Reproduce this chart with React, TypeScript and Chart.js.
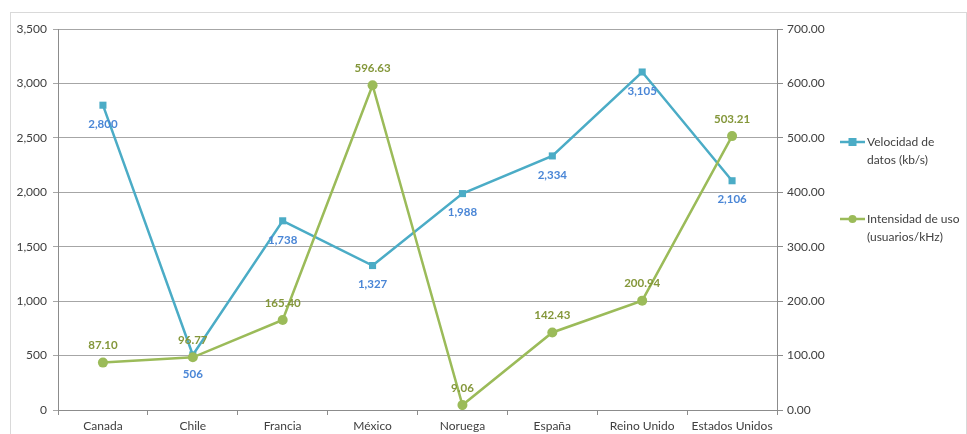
import React, { useEffect, useRef } from "react";
import { Chart, registerables } from "chart.js";

Chart.register(...registerables);

const categories = ["Canada", "Chile", "Francia", "México", "Noruega", "España", "Reino Unido", "Estados Unidos"];
const velocidad = [2800, 506, 1738, 1327, 1988, 2334, 3105, 2106];
const intensidad = [87.1, 96.77, 165.4, 596.63, 9.06, 142.43, 200.94, 503.21];
const legendVelocidad = ["Velocidad de", "datos (kb/s)"];
const legendIntensidad = ["Intensidad de uso", "(usuarios/kHz)"];

const BLUE = "#4bacc6";
const GREEN = "#9bbb59";
const BLUE_LABEL = "#4a86d6";
const GREEN_LABEL = "#84973a";
const TEXT = "#404040";
const FONT = "Lato, 'Open Sans', sans-serif";

const dataLabels = {
  id: "dataLabels",
  afterDatasetsDraw(chart: any) {
    const ctx = chart.ctx;
    ctx.save();
    ctx.font = `bold 11.5px ${FONT}`;
    ctx.textAlign = "center";
    ctx.textBaseline = "middle";
    chart.data.datasets.forEach((ds: any, di: number) => {
      const meta = chart.getDatasetMeta(di);
      meta.data.forEach((pt: any, i: number) => {
        const v = ds.data[i];
        if (di === 0) {
          ctx.fillStyle = BLUE_LABEL;
          ctx.fillText(v.toLocaleString("en-US"), pt.x, pt.y + 19);
        } else {
          ctx.fillStyle = GREEN_LABEL;
          ctx.fillText(v.toFixed(2), pt.x, pt.y - 17);
        }
      });
    });
    ctx.restore();
  },
};

const customLegend = {
  id: "customLegend",
  afterDraw(chart: any) {
    const ctx = chart.ctx;
    ctx.save();
    const items = [
      { lines: legendVelocidad, color: BLUE, shape: "rect", y: 142 },
      { lines: legendIntensidad, color: GREEN, shape: "circle", y: 219 },
    ];
    const x0 = 840;
    items.forEach((it) => {
      ctx.strokeStyle = it.color;
      ctx.lineWidth = 2.5;
      ctx.beginPath();
      ctx.moveTo(x0, it.y);
      ctx.lineTo(x0 + 25, it.y);
      ctx.stroke();
      ctx.fillStyle = it.color;
      if (it.shape === "rect") {
        ctx.fillRect(x0 + 8.5, it.y - 4, 8, 8);
      } else {
        ctx.beginPath();
        ctx.arc(x0 + 12.5, it.y, 4, 0, Math.PI * 2);
        ctx.fill();
      }
      ctx.fillStyle = TEXT;
      ctx.font = `12px ${FONT}`;
      ctx.textAlign = "left";
      ctx.textBaseline = "middle";
      it.lines.forEach((l, k) => ctx.fillText(l, x0 + 27, it.y + k * 18));
    });
    ctx.restore();
  },
};

export default function App() {
  const ref = useRef<HTMLCanvasElement>(null);
  useEffect(() => {
    if (!ref.current) return;
    const chart = new Chart(ref.current, {
      type: "line",
      data: {
        labels: categories,
        datasets: [
          {
            label: "Velocidad de datos (kb/s)",
            data: velocidad,
            yAxisID: "y",
            borderColor: BLUE,
            backgroundColor: BLUE,
            borderWidth: 2.5,
            pointStyle: "rect",
            pointRadius: 5,
            pointBackgroundColor: BLUE,
            pointBorderWidth: 0,
            tension: 0,
            order: 1,
          },
          {
            label: "Intensidad de uso (usuarios/kHz)",
            data: intensidad,
            yAxisID: "y1",
            borderColor: GREEN,
            backgroundColor: GREEN,
            borderWidth: 2.5,
            pointStyle: "circle",
            pointRadius: 5,
            pointBackgroundColor: GREEN,
            pointBorderWidth: 0,
            tension: 0,
            order: 0,
          },
        ],
      },
      options: {
        responsive: false,
        animation: false,
        layout: { padding: { top: 29, right: 130, bottom: 0, left: 0 } },
        plugins: { legend: { display: false }, tooltip: { enabled: false } },
        scales: {
          x: {
            type: "category",
            offset: true,
            grid: { offset: true, drawOnChartArea: false, color: "#8c8c8c", tickLength: 5 },
            border: { color: "#8c8c8c" },
            ticks: { color: TEXT, font: { family: FONT, size: 12 }, padding: 4, maxRotation: 0, autoSkip: false },
            afterFit: (s: any) => { s.height = 24; },
          },
          y: {
            position: "left",
            min: 0,
            max: 3500,
            ticks: {
              stepSize: 500,
              color: TEXT,
              font: { family: FONT, size: 12 },
              padding: 6,
              callback: (v: any) => Number(v).toLocaleString("en-US"),
            },
            grid: { color: "#a6a6a6", tickLength: 5, lineWidth: 1 },
            border: { color: "#8c8c8c" },
            afterFit: (s: any) => { s.width = 58; },
          },
          y1: {
            position: "right",
            min: 0,
            max: 700,
            ticks: {
              stepSize: 100,
              color: TEXT,
              font: { family: FONT, size: 12 },
              padding: 4,
              callback: (v: any) => Number(v).toFixed(2),
            },
            grid: { drawOnChartArea: false, color: "#8c8c8c", tickLength: 6 },
            border: { color: "#8c8c8c" },
            afterFit: (s: any) => { s.width = 60; },
          },
        },
      },
      plugins: [dataLabels, customLegend],
    } as any);
    return () => chart.destroy();
  }, []);
  return (
    <div style={{ position: "absolute", left: 0, top: 0, width: 967, height: 434, overflow: "hidden", background: "#fff" }}>
      <div style={{ position: "absolute", left: 10, top: 12, width: 955, height: 440, border: "1px solid #d9d9d9" }} />
      <canvas ref={ref} width={967} height={434} style={{ position: "absolute", left: 0, top: 0, width: 967, height: 434 }} />
    </div>
  );
}
